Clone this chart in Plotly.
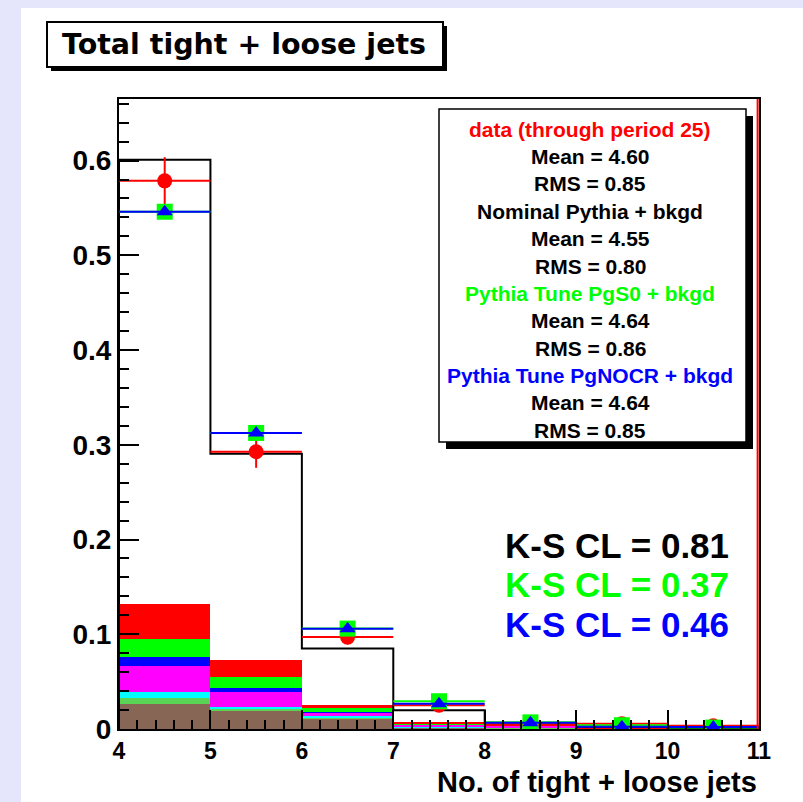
import plotly.graph_objects as go

# ---------------- data ----------------
bin_edges = [4, 5, 6, 7, 8, 9, 10, 11]
bin_centers = [4.5, 5.5, 6.5, 7.5, 8.5, 9.5, 10.5]

# Nominal Pythia + bkgd (black histogram)
nominal = [0.601, 0.2906, 0.0849, 0.0198, 0.006, 0.002, 0.001]
# data (red points)
data_vals = [0.5786, 0.2927, 0.0970, 0.0250, 0.0055, 0.0055, 0.0035]
data_err = [0.025, 0.017, 0.008, 0.004, 0.002, 0.002, 0.002]
# Pythia Tune PgS0 + bkgd (green)
pgs0 = [0.546, 0.3125, 0.1060, 0.0293, 0.0070, 0.0040, 0.0015]
# Pythia Tune PgNOCR + bkgd (blue)
pgnocr = [0.546, 0.3124, 0.1057, 0.0266, 0.0065, 0.0025, 0.0020]

# stacked background components (bottom -> top)
bkg_brown = [0.026, 0.0198, 0.011, 0.0015, 0.0010, 0.0, 0.0]
bkg_lgreen = [0.007, 0.0018, 0.001, 0.0003, 0.0002, 0.0, 0.0]
bkg_cyan = [0.006, 0.0018, 0.002, 0.0005, 0.0003, 0.0, 0.0]
bkg_magenta = [0.027, 0.0154, 0.0035, 0.0025, 0.0020, 0.0008, 0.0005]
bkg_blue = [0.0095, 0.0047, 0.0005, 0.0004, 0.0003, 0.0, 0.0]
bkg_green = [0.020, 0.011, 0.004, 0.0003, 0.0003, 0.0002, 0.0]
bkg_red = [0.036, 0.018, 0.0035, 0.0017, 0.0008, 0.0005, 0.0003]

stack = [
    (bkg_brown, "#876656"),
    (bkg_lgreen, "#59D454"),
    (bkg_cyan, "#00FFFF"),
    (bkg_magenta, "#FF00FF"),
    (bkg_blue, "#0000FF"),
    (bkg_green, "#00FF00"),
    (bkg_red, "#FF0000"),
]

stats_lines = [
    ("data (through period 25)", "#FF0000"),
    ("Mean = 4.60", "black"),
    ("RMS = 0.85", "black"),
    ("Nominal Pythia + bkgd", "black"),
    ("Mean = 4.55", "black"),
    ("RMS = 0.80", "black"),
    ("Pythia Tune PgS0 + bkgd", "#00FF00"),
    ("Mean = 4.64", "black"),
    ("RMS = 0.86", "black"),
    ("Pythia Tune PgNOCR + bkgd", "#0000FF"),
    ("Mean = 4.64", "black"),
    ("RMS = 0.85", "black"),
]
ks_lines = [("K-S CL = 0.81", "black"), ("K-S CL = 0.37", "#00FF00"), ("K-S CL = 0.46", "#0000FF")]

# ---------------- geometry helpers ----------------
W, H = 803, 802
L, R, T, B = 119, 44, 99, 73
PW, PH = W - L - R, H - T - B


def px(x):
    return (x - L) / PW


def py(y):
    return (H - B - y) / PH


FONT = "Liberation Sans, Arial, Helvetica, sans-serif"

fig = go.Figure()

for vals, col in stack:
    fig.add_trace(go.Bar(x=bin_centers, y=vals, width=1.0, marker=dict(color=col, line=dict(width=0)),
                         showlegend=False, hoverinfo="skip"))

# black step histogram
hx = [bin_edges[0]] + bin_edges + [bin_edges[-1]]
hy = [0] + nominal + [nominal[-1], 0]
fig.add_trace(go.Scatter(x=hx, y=hy, mode="lines", line=dict(color="black", width=2, shape="hv"),
                         showlegend=False, hoverinfo="skip"))

# data points
fig.add_trace(go.Scatter(
    x=bin_centers, y=data_vals, mode="markers",
    marker=dict(symbol="circle", size=15, color="#FF0000"),
    error_x=dict(type="constant", value=0.5, width=0, thickness=2, color="#FF0000"),
    error_y=dict(type="data", array=data_err, width=0, thickness=2, color="#FF0000"),
    showlegend=False, hoverinfo="skip"))

# PgS0 green
fig.add_trace(go.Scatter(
    x=bin_centers, y=pgs0, mode="markers",
    marker=dict(symbol="square", size=16, color="#00FF00"),
    error_x=dict(type="constant", value=0.5, width=0, thickness=2, color="#00FF00"),
    showlegend=False, hoverinfo="skip"))

# PgNOCR blue
fig.add_trace(go.Scatter(
    x=bin_centers, y=pgnocr, mode="markers",
    marker=dict(symbol="triangle-up", size=14, color="#0000FF"),
    error_x=dict(type="constant", value=0.5, width=0, thickness=2, color="#0000FF"),
    showlegend=False, hoverinfo="skip"))

shapes = []
# lavender strips
shapes.append(dict(type="rect", xref="paper", yref="paper", x0=px(0), x1=px(21), y0=py(H), y1=py(0),
                   fillcolor="#E5E5FB", line=dict(width=0), layer="below"))
shapes.append(dict(type="rect", xref="paper", yref="paper", x0=px(0), x1=px(W), y0=py(8), y1=py(0),
                   fillcolor="#E5E5FB", line=dict(width=0), layer="below"))
# red line at right edge (data histogram edge)
shapes.append(dict(type="line", xref="x", yref="paper", x0=10.985, x1=10.985, y0=0, y1=1,
                   line=dict(color="#FF0000", width=2), layer="above"))
# title box with shadow
shapes.append(dict(type="rect", xref="paper", yref="paper", x0=px(51), x1=px(447), y0=py(71), y1=py(26),
                   fillcolor="black", line=dict(width=0), layer="above"))
shapes.append(dict(type="rect", xref="paper", yref="paper", x0=px(47), x1=px(443), y0=py(67), y1=py(22),
                   fillcolor="white", line=dict(color="black", width=2), layer="above"))
# stats box with shadow
shapes.append(dict(type="rect", xref="paper", yref="paper", x0=px(446), x1=px(753), y0=py(449), y1=py(116),
                   fillcolor="black", line=dict(width=0), layer="above"))
shapes.append(dict(type="rect", xref="paper", yref="paper", x0=px(439), x1=px(746), y0=py(442), y1=py(109),
                   fillcolor="white", line=dict(color="black", width=1.5), layer="above"))

annotations = []
annotations.append(dict(text="Total tight + loose jets", xref="paper", yref="paper", x=px(244), y=py(44),
                        xanchor="center", yanchor="middle", showarrow=False,
                        font=dict(family="DejaVu Sans", size=28.5, color="black", weight="bold")))
for i, (txt, col) in enumerate(stats_lines):
    annotations.append(dict(text=txt, xref="paper", yref="paper", x=px(590), y=py(129 + 27.4 * i),
                            xanchor="center", yanchor="middle", showarrow=False,
                            font=dict(family=FONT, size=21, color=col, weight="bold")))
for i, (txt, col) in enumerate(ks_lines):
    annotations.append(dict(text=txt, xref="paper", yref="paper", x=px(503), y=py(545 + 39.5 * i),
                            xanchor="left", yanchor="middle", showarrow=False,
                            font=dict(family=FONT, size=35, color=col, weight="bold")))
annotations.append(dict(text="No. of tight + loose jets", xref="paper", yref="paper", x=px(758), y=py(765),
                        xanchor="right", yanchor="top", showarrow=False, borderpad=0,
                        font=dict(family=FONT, size=29, color="black", weight="bold")))

fig.update_layout(
    width=W, height=H,
    margin=dict(l=L, r=R, t=T, b=B, pad=0),
    paper_bgcolor="white", plot_bgcolor="white",
    barmode="stack", bargap=0, showlegend=False,
    shapes=shapes, annotations=annotations,
    xaxis=dict(range=[4, 11], tickmode="linear", tick0=4, dtick=1, ticks="inside", ticklen=19,
               tickwidth=2, tickcolor="black", showline=True, linewidth=2, linecolor="black", mirror=True,
               showgrid=False, zeroline=False, ticklabelstandoff=0,
               tickfont=dict(family=FONT, size=23, color="black", weight="bold"),
               minor=dict(dtick=0.2, tick0=4, ticks="inside", ticklen=9, tickwidth=1.5, tickcolor="black",
                          showgrid=False)),
    yaxis=dict(range=[0, 0.665], tickmode="linear", tick0=0, dtick=0.1, ticks="inside", ticklen=20,
               tickwidth=2, tickcolor="black", showline=True, linewidth=2, linecolor="black", mirror=True,
               showgrid=False, zeroline=False,
               tickfont=dict(family=FONT, size=28, color="black", weight="bold"),
               minor=dict(dtick=0.02, tick0=0, ticks="inside", ticklen=10, tickwidth=1.5, tickcolor="black",
                          showgrid=False)),
)

fig.write_html("out.html")
